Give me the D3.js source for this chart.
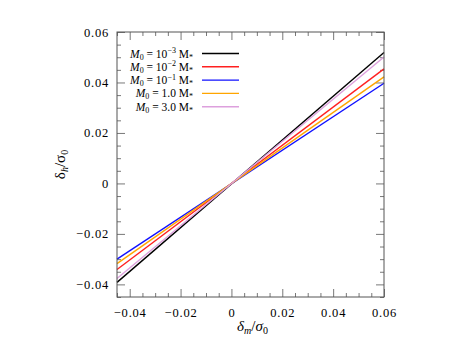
<!DOCTYPE html>
<html>
<head>
<meta charset="utf-8">
<script src="https://cdn.jsdelivr.net/npm/d3@7"></script>
<style>
  body { margin: 0; background: #fff; }
  svg { font-family: 'Liberation Serif', 'DejaVu Serif', serif; }
</style>
</head>
<body>
<svg id="chart" width="462" height="346"></svg>
<script>
// Line endpoints (x at left/right edge of the plot)
const xEnds = [-0.045, 0.06];
const seriesNames = ['1e-3', '1e-2', '1e-1', '1.0', '3.0'];
const seriesColors = ['#000000', '#ff2020', '#1010ff', '#ffa500', '#dda0dd'];
const seriesY = [
  [-0.0392, 0.0519],
  [-0.0341, 0.0454],
  [-0.0300, 0.0397],
  [-0.0318, 0.0422],
  [-0.0377, 0.0501]
];
const majorTicks = [-0.04, -0.02, 0, 0.02, 0.04, 0.06];
const tickLabels = ['\u22120.04', '\u22120.02', '0', '0.02', '0.04', '0.06'];

const margin = { top: 32, right: 78, bottom: 49, left: 117 };
const width = 462, height = 346;
const innerW = width - margin.left - margin.right;
const innerH = height - margin.top - margin.bottom;

const svg = d3.select('#chart');
const g = svg.append('g').attr('transform', `translate(${margin.left},${margin.top})`);

const x = d3.scaleLinear().domain([-0.045, 0.06]).range([0, innerW]);
const y = d3.scaleLinear().domain([-0.045, 0.06]).range([innerH, 0]);

const minorTicks = d3.range(-0.045, 0.0601, 0.005).map(v => Math.round(v * 1000) / 1000);
const fmt = v => tickLabels[majorTicks.findIndex(t => Math.abs(t - v) < 1e-9)] || '';

// Tick marks on all four sides, pointing inward
const frameColor = '#555';
function drawTicks(axisGen, transform) {
  const a = g.append('g').attr('transform', transform).call(axisGen);
  a.select('.domain').remove();
  a.selectAll('line').attr('stroke', frameColor).attr('stroke-width', 0.8);
  return a;
}
const isMajor = v => majorTicks.some(t => Math.abs(t - v) < 1e-9);
const minorOnly = minorTicks.filter(v => !isMajor(v));

// minor
drawTicks(d3.axisBottom(x).tickValues(minorOnly).tickSize(-4).tickFormat(''), `translate(0,${innerH})`);
drawTicks(d3.axisTop(x).tickValues(minorOnly).tickSize(-4).tickFormat(''), 'translate(0,0)');
drawTicks(d3.axisLeft(y).tickValues(minorOnly).tickSize(-4).tickFormat(''), 'translate(0,0)');
drawTicks(d3.axisRight(y).tickValues(minorOnly).tickSize(-4).tickFormat(''), `translate(${innerW},0)`);

// major with labels
const xb = drawTicks(d3.axisBottom(x).tickValues(majorTicks).tickSize(-8).tickPadding(11).tickFormat(fmt), `translate(0,${innerH})`);
xb.selectAll('text').attr('font-size', 12.5).attr('letter-spacing', 0.8).attr('fill', '#000').attr('font-family', 'Liberation Serif, serif');
drawTicks(d3.axisTop(x).tickValues(majorTicks).tickSize(-8).tickFormat(''), 'translate(0,0)');
const yl = drawTicks(d3.axisLeft(y).tickValues(majorTicks).tickSize(-8).tickPadding(8).tickFormat(fmt), 'translate(0,0)');
yl.selectAll('text').attr('font-size', 12.5).attr('letter-spacing', 0.8).attr('fill', '#000').attr('font-family', 'Liberation Serif, serif');
drawTicks(d3.axisRight(y).tickValues(majorTicks).tickSize(-8).tickFormat(''), `translate(${innerW},0)`);

// Lines
const line = d3.line().x(d => x(d[0])).y(d => y(d[1]));
seriesY.forEach((ys, i) => {
  g.append('path')
    .datum(xEnds.map((xv, j) => [xv, ys[j]]))
    .attr('d', line)
    .attr('fill', 'none')
    .attr('stroke', seriesColors[i])
    .attr('stroke-width', 1.4);
});

// Frame
g.append('rect')
  .attr('width', innerW).attr('height', innerH)
  .attr('fill', 'none').attr('stroke', frameColor).attr('stroke-width', 1);

// Legend
const legend = g.append('g');
const legendLabels = [
  { pre: '10', sup: '\u22123', post: ' M' },
  { pre: '10', sup: '\u22122', post: ' M' },
  { pre: '10', sup: '\u22121', post: ' M' },
  { pre: '1.0 ', sup: '', post: 'M' },
  { pre: '3.0 ', sup: '', post: 'M' }
];
legendLabels.forEach((lab, i) => {
  const yy = 21.5 + i * 13.3;
  const t = legend.append('text')
    .attr('x', 76).attr('y', yy + 4)
    .attr('text-anchor', 'end')
    .attr('font-size', 11.5);
  t.append('tspan').attr('font-style', 'italic').text('M');
  t.append('tspan').attr('font-size', 8).attr('dy', 2).text('0');
  t.append('tspan').attr('dy', -2).text(' = ' + lab.pre);
  if (lab.sup) t.append('tspan').attr('font-size', 8).attr('dy', -4.5).text(lab.sup);
  t.append('tspan').attr('dy', lab.sup ? 4.5 : 0).text(lab.post);
  t.append('tspan').attr('font-size', 8).attr('dy', 2).text('*');
  legend.append('line')
    .attr('x1', 85).attr('x2', 122)
    .attr('y1', yy).attr('y2', yy)
    .attr('stroke', seriesColors[i]).attr('stroke-width', 1.4);
});

// Axis titles
const xt = svg.append('text')
  .attr('x', margin.left + innerW / 2 + 2).attr('y', 331)
  .attr('text-anchor', 'middle').attr('font-size', 15);
xt.append('tspan').attr('font-style', 'italic').text('\u03b4');
xt.append('tspan').attr('font-style', 'italic').attr('font-size', 10).attr('dy', 3).text('m');
xt.append('tspan').attr('dy', -3).text('/');
xt.append('tspan').attr('font-style', 'italic').text('\u03c3');
xt.append('tspan').attr('font-size', 10).attr('dy', 3).text('0');

const yt = svg.append('text')
  .attr('transform', `translate(65,${margin.top + innerH / 2}) rotate(-90)`)
  .attr('text-anchor', 'middle').attr('font-size', 15);
yt.append('tspan').text('\u03b4');
yt.append('tspan').attr('font-style', 'italic').attr('font-size', 10).attr('dy', 3).text('h');
yt.append('tspan').attr('dy', -3).text('/');
yt.append('tspan').text('\u03c3');
yt.append('tspan').attr('font-size', 10).attr('dy', 3).text('0');
</script>
</body>
</html>
